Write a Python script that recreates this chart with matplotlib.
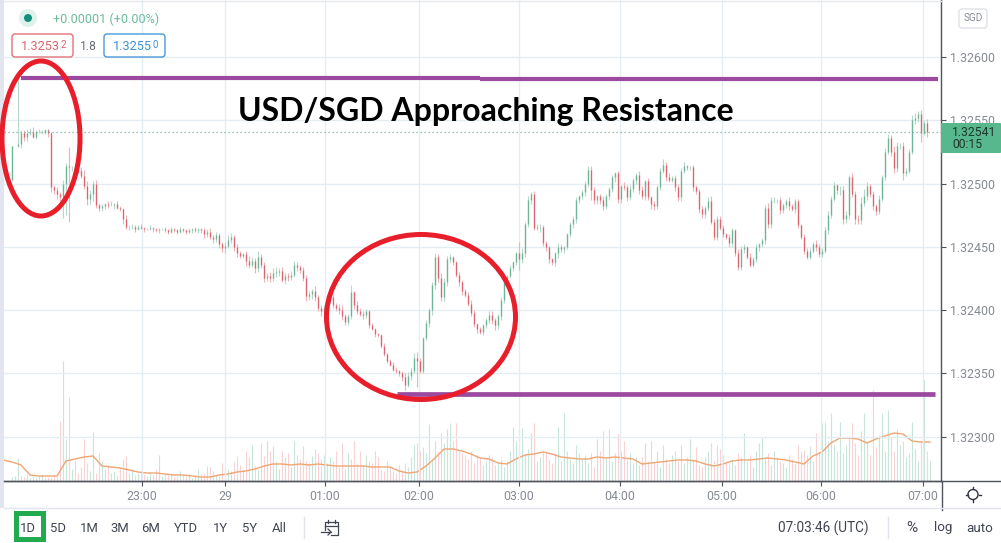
import numpy as np
import matplotlib
matplotlib.use('Agg')
import matplotlib.pyplot as plt
from matplotlib.patches import Ellipse, FancyBboxPatch, Rectangle, Circle

W, H = 1001, 543

# prices are stored as points above 1.32000
closes = [
    530, 530, 531, 540, 537, 540, 541, 537, 541, 541,
    541, 542, 540, 497, 495, 492, 489, 500, 514, 513,
    513, 511, 510, 506, 498, 488, 492, 500, 483, 481,
    482, 484, 483, 483, 484, 481, 480, 472, 466, 466,
    466, 464, 466, 465, 464, 464, 465, 464, 463, 464,
    464, 463, 462, 464, 463, 462, 464, 463, 462, 463,
    464, 463, 464, 463, 460, 462, 458, 456, 459, 452,
    449, 451, 455, 458, 450, 445, 443, 444, 439, 436,
    439, 433, 442, 436, 425, 427, 425, 429, 430, 431,
    424, 427, 426, 428, 436, 434, 432, 425, 411, 413,
    415, 410, 402, 399, 402, 407, 410, 404, 402, 400,
    395, 391, 395, 414, 404, 399, 397, 396, 399, 388,
    385, 381, 380, 372, 365, 360, 357, 353, 352, 350,
    347, 341, 348, 352, 362, 360, 352, 378, 390, 400,
    420, 442, 425, 410, 422, 440, 442, 438, 428, 422,
    415, 412, 405, 398, 389, 385, 383, 388, 392, 396,
    392, 388, 395, 408, 424, 427, 433, 438, 445, 440,
    445, 468, 487, 492, 465, 466, 466, 453, 450, 440,
    438, 445, 450, 448, 450, 460, 468, 472, 487, 490,
    493, 500, 511, 495, 487, 490, 487, 482, 490, 496,
    505, 508, 488, 498, 497, 489, 496, 503, 507, 495,
    490, 502, 489, 484, 482, 497, 510, 515, 505, 503,
    504, 497, 489, 510, 514, 513, 513, 497, 494, 480,
    476, 481, 486, 470, 458, 472, 465, 460, 458, 453,
    463, 445, 434, 448, 450, 442, 436, 440, 450, 452,
    455, 481, 468, 487, 487, 487, 479, 483, 486, 482,
    480, 486, 467, 458, 447, 442, 447, 452, 450, 444,
    447, 463, 475, 488, 499, 495, 495, 472, 475, 505,
    492, 472, 471, 485, 490, 498, 492, 482, 478, 488,
    505, 525, 536, 525, 512, 530, 530, 508, 510, 525,
    550, 552, 555, 540, 548, 541, 541,
]
first_open = 503

wick_up = [
    0, 0, 52, 2, 2, 3, 3, 4, 1, 2,
    1, 1, 1, 1, 2, 2, 1, 3, 2, 15,
    1, 2, 2, 3, 5, 4, 3, 2, 3, 2,
    2, 1, 2, 3, 1, 2, 1, 1, 3, 1,
    2, 1, 1, 2, 1, 1, 2, 1, 1, 1,
    1, 2, 1, 2, 1, 1, 2, 1, 1, 2,
    1, 2, 1, 1, 2, 2, 3, 1, 3, 2,
    2, 3, 4, 3, 1, 2, 2, 1, 3, 4,
    3, 2, 5, 2, 2, 2, 3, 4, 4, 2,
    3, 2, 2, 3, 3, 2, 2, 2, 3, 2,
    2, 4, 2, 2, 2, 1, 4, 3, 2, 3,
    4, 2, 2, 6, 1, 3, 3, 2, 2, 1,
    2, 1, 1, 1, 2, 1, 1, 2, 2, 1,
    2, 3, 3, 2, 4, 5, 2, 1, 2, 2,
    2, 3, 2, 4, 3, 3, 2, 1, 1, 2,
    2, 2, 2, 3, 2, 1, 2, 1, 2, 3,
    3, 2, 2, 2, 2, 1, 3, 1, 1, 9,
    4, 2, 3, 1, 2, 2, 2, 1, 2, 1,
    1, 1, 3, 2, 1, 1, 2, 2, 2, 1,
    2, 2, 3, 3, 2, 1, 2, 3, 2, 1,
    2, 1, 2, 1, 3, 2, 3, 1, 1, 3,
    3, 1, 2, 1, 2, 2, 2, 4, 2, 3,
    2, 3, 3, 2, 3, 1, 1, 2, 2, 2,
    2, 1, 3, 4, 2, 2, 2, 2, 1, 2,
    2, 1, 3, 3, 2, 1, 3, 2, 2, 1,
    2, 2, 4, 2, 2, 1, 2, 2, 2, 3,
    2, 2, 2, 1, 2, 2, 2, 2, 3, 2,
    2, 3, 3, 2, 2, 1, 3, 3, 3, 2,
    3, 2, 3, 4, 6, 3, 2, 2, 2, 3,
    2, 3, 3, 2, 5, 3, 2, 3, 2, 2,
    4, 4, 2, 3, 2, 3, 0,
]

wick_down = [
    0, 0, 1, 3, 3, 3, 2, 1, 2, 1,
    2, 2, 3, 4, 3, 4, 3, 16, 25, 43,
    3, 3, 2, 2, 2, 5, 4, 6, 2, 3,
    3, 2, 2, 1, 3, 1, 2, 4, 2, 3,
    2, 2, 1, 1, 2, 1, 1, 2, 1, 2,
    1, 1, 2, 1, 1, 2, 1, 1, 2, 1,
    2, 1, 2, 2, 3, 2, 2, 3, 2, 3,
    3, 4, 2, 2, 3, 3, 2, 2, 4, 3,
    2, 4, 3, 3, 3, 2, 3, 2, 3, 3,
    2, 3, 3, 2, 2, 3, 3, 2, 4, 3,
    4, 3, 3, 4, 2, 2, 2, 2, 3, 3,
    3, 3, 3, 2, 3, 2, 2, 3, 2, 2,
    1, 2, 1, 2, 1, 2, 1, 1, 2, 2,
    3, 4, 2, 3, 2, 21, 2, 2, 2, 3,
    4, 3, 3, 3, 3, 3, 2, 2, 2, 3,
    3, 2, 2, 3, 2, 3, 2, 3, 2, 2,
    3, 4, 3, 3, 2, 3, 2, 2, 2, 8,
    3, 3, 2, 3, 2, 2, 4, 2, 3, 3,
    2, 3, 4, 2, 3, 2, 2, 3, 3, 2,
    2, 3, 3, 8, 3, 3, 3, 3, 2, 3,
    3, 4, 3, 3, 2, 3, 2, 3, 3, 3,
    2, 3, 2, 4, 3, 2, 2, 2, 3, 2,
    2, 3, 3, 3, 2, 2, 2, 3, 2, 3,
    3, 3, 3, 2, 3, 3, 2, 2, 2, 3,
    3, 2, 2, 2, 3, 2, 2, 2, 2, 3,
    2, 3, 3, 3, 2, 2, 3, 2, 2, 3,
    2, 3, 2, 2, 3, 2, 2, 2, 3, 2,
    2, 2, 3, 2, 2, 3, 4, 4, 3, 3,
    3, 4, 3, 3, 3, 3, 3, 3, 3, 2,
    2, 2, 2, 3, 4, 3, 3, 5, 2, 2,
    2, 3, 3, 7, 2, 4, 0,
]

volumes = [
    4, 5, 23, 5, 4, 6, 3, 4, 3, 5,
    7, 3, 4, 4, 6, 4, 60, 120, 42, 84,
    12, 20, 8, 14, 42, 18, 10, 49, 8, 28,
    20, 12, 16, 8, 10, 6, 14, 22, 25, 8,
    12, 6, 8, 10, 7, 5, 9, 6, 12, 26,
    5, 7, 6, 8, 4, 5, 10, 6, 4, 7,
    3, 6, 12, 7, 8, 15, 14, 10, 6, 5,
    18, 14, 12, 10, 20, 25, 16, 12, 30, 24,
    36, 15, 12, 38, 25, 40, 30, 35, 20, 12,
    30, 24, 28, 14, 40, 26, 22, 35, 20, 18,
    25, 32, 28, 22, 26, 18, 24, 20, 30, 14,
    38, 12, 28, 22, 40, 18, 30, 16, 26, 20,
    18, 30, 24, 12, 10, 20, 14, 10, 8, 16,
    10, 18, 14, 24, 36, 38, 30, 34, 28, 57,
    22, 40, 30, 48, 38, 52, 58, 40, 58, 30,
    28, 26, 22, 30, 18, 26, 24, 16, 20, 26,
    24, 16, 18, 22, 14, 20, 30, 54, 40, 18,
    53, 26, 32, 48, 58, 20, 24, 30, 28, 22,
    18, 28, 54, 20, 68, 30, 22, 18, 36, 28,
    22, 26, 18, 28, 14, 42, 30, 50, 24, 52,
    20, 28, 47, 30, 40, 22, 28, 18, 24, 16,
    24, 38, 20, 40, 18, 30, 14, 36, 22, 18,
    26, 30, 20, 36, 18, 24, 42, 22, 34, 16,
    14, 24, 30, 38, 20, 36, 32, 26, 20, 18,
    22, 16, 28, 24, 48, 20, 26, 14, 30, 38,
    44, 22, 28, 16, 30, 24, 20, 18, 14, 26,
    22, 18, 36, 30, 31, 26, 35, 20, 48, 30,
    58, 59, 40, 68, 36, 30, 59, 28, 36, 44,
    58, 38, 26, 50, 68, 40, 26, 91, 34, 46,
    68, 30, 71, 44, 30, 52, 36, 40, 24, 28,
    59, 32, 20, 40, 101, 30, 20,
]

# volume moving average, one reading every third bar starting one step left of bar 0
volume_ma = [
    21, 19, 16, 6, 5, 5, 5, 20, 22, 24,
    25, 15, 14, 13, 11, 9, 8, 8, 7, 6,
    6, 5, 4, 4, 6, 7, 9, 10, 12, 15,
    17, 17, 16, 17, 16, 17, 16, 15, 15, 15,
    15, 14, 14, 14, 10, 8, 9, 15, 23, 32,
    32, 30, 27, 23, 22, 18, 17, 22, 26, 27,
    29, 27, 24, 23, 22, 22, 24, 23, 24, 23,
    22, 17, 18, 19, 20, 21, 21, 20, 17, 15,
    17, 20, 21, 21, 22, 23, 22, 21, 19, 17,
    25, 29, 38, 43, 43, 42, 38, 42, 45, 48,
    47, 40, 39, 39,
]

price_ticks = [1.32300, 1.32350, 1.32400, 1.32450, 1.32500, 1.32550, 1.32600]
time_ticks = [43.3, 71.0, 104.3, 135.7, 169.0, 202.7, 236.7, 269.7, 303.7]
time_labels = ['23:00', '29', '01:00', '02:00', '03:00', '04:00', '05:00', '06:00', '07:00']
last_price = 1.32541
resistance = 1.32583
support = 1.32334
range_labels = ['1D', '5D', '1M', '3M', '6M', 'YTD', '1Y', '5Y', 'All']
range_x = [28, 58, 89, 120, 151, 186, 220, 250, 279]

GREEN = '#6cb596'
RED = '#da6570'
GREY = '#868b94'
DARK = '#3f4450'
LINE = '#50535e'
GRID = '#e4edf1'
FONT = 'Roboto'

c = 1.32 + np.array(closes) * 1e-5
o = np.r_[1.32 + first_open * 1e-5, c[:-1]]
hi = np.maximum(o, c) + np.array(wick_up) * 1e-5
lo = np.minimum(o, c) - np.array(wick_down) * 1e-5
bars = np.arange(len(c))
up = c >= o

fig = plt.figure(figsize=(W / 100, H / 100), dpi=100, facecolor='white')
rect = [4 / W, (H - 481) / H, 937 / W, 481 / H]

# volume sits behind the price panel
vol_ax = fig.add_axes(rect, zorder=1)
vol_ax.set_xlim(-2.67, 309.67)
vol_ax.set_ylim(0, 481)
vol_ax.axis('off')
vol_ax.vlines(bars, 0, volumes, colors=np.where(up, '#c8e5d9', '#f8d2d4'), lw=0.8)
vol_ax.plot(np.arange(len(volume_ma)) * 3 - 3, volume_ma, color='#f0a673', lw=1)

ax = fig.add_axes(rect, zorder=2)
ax.patch.set_alpha(0)
ax.set_xlim(-2.67, 309.67)
ax.set_ylim(1.32265, 1.32645)
ax.grid(True, color=GRID, lw=1)
ax.set_axisbelow(True)
ax.set_xticks(time_ticks)
ax.set_xticklabels(time_labels)
ax.set_yticks(price_ticks)
ax.set_yticklabels(['%.5f' % p for p in price_ticks])
ax.yaxis.tick_right()
ax.tick_params(colors=GREY, labelsize=8.9, length=3.5, width=0.8, pad=3)
ax.tick_params(axis='both', color=LINE)
for t in ax.get_xticklabels() + ax.get_yticklabels():
    t.set_fontfamily(FONT)
for s in ['left', 'top']:
    ax.spines[s].set_visible(False)
for s in ['right', 'bottom']:
    ax.spines[s].set_color(LINE)
    ax.spines[s].set_linewidth(1)

ax.vlines(bars[up], lo[up], hi[up], color='#b4d9c8', lw=0.8)
ax.vlines(bars[~up], lo[~up], hi[~up], color='#eeb3b7', lw=0.8)
ax.vlines(bars[up], o[up], c[up], color=GREEN, lw=0.95)
ax.vlines(bars[~up], c[~up], o[~up], color=RED, lw=0.95)

ax.axhline(last_price, color=GREEN, lw=0.9, ls=(0, (1, 2.2)))
ax.hlines(resistance, 3, 156, color='#9c4a9f', lw=3)
ax.hlines(resistance - 0.000004, 156, 308.7, color='#9c4a9f', lw=3)
ax.hlines(support, 128.3, 307.7, color='#9c4a9f', lw=3.4)

# everything that is page furniture goes on a pixel overlay
ui = fig.add_axes([0, 0, 1, 1], zorder=3)
ui.set_xlim(0, W)
ui.set_ylim(H, 0)
ui.axis('off')
ui.patch.set_alpha(0)


def label(x, y, s, size=8.9, color=DARK, ha='center', **kw):
    ui.text(x, y, s, fontsize=size, color=color, ha=ha, va='center', family=FONT, **kw)


def box(x, y, w, h, edge, face='white', lw=1, pad=3):
    ui.add_patch(FancyBboxPatch((x + pad, y + pad), w - 2 * pad, h - 2 * pad,
                                boxstyle='round,pad=%d' % pad, fc=face, ec=edge, lw=lw))


ui.add_patch(Rectangle((0, 0), 4, 508, fc='#e2e4f0', ec='none'))
ui.plot([4, W], [481, 481], color=LINE, lw=1)
ui.plot([941.5, 941.5], [481, 510], color=LINE, lw=1)
ui.plot([4, W], [508, 508], color='#e3e5ec', lw=1)
ui.plot([4, 941], [1, 1], color='#e6e9ee', lw=1)

ui.add_patch(Ellipse((41, 138.5), 78, 155, fc='none', ec='#e81f2a', lw=3.6))
ui.add_patch(Ellipse((421, 317), 189, 165, fc='none', ec='#e81f2a', lw=3.6))

ui.text(486, 112, 'USD/SGD Approaching Resistance', fontsize=23, fontweight='bold',
        family='Lato', color='black', ha='center', va='center')

# legend row
ui.add_patch(Circle((28, 18), 9, fc='#dff1ec', ec='none'))
ui.add_patch(Circle((28, 18), 4, fc='#12907c', ec='none'))
label(53, 19, '+0.00001 (+0.00%)', size=9.1, color='#6cbc9b', ha='left')
box(12, 34, 61, 23, '#e27378')
label(21, 46, '1.3253', size=9.2, color='#d9666c', ha='left')
label(60.5, 45, '2', size=7, color='#d9666c', ha='left')
label(88.5, 46, '1.8', size=8.7, color='#6a6e78')
box(104, 34, 61, 23, '#4a98d8')
label(113, 46, '1.3255', size=9.2, color='#3d8fd2', ha='left')
label(152.5, 45, '0', size=7, color='#3d8fd2', ha='left')

box(959, 9, 28, 19, '#dfe2e8')
label(973, 18, 'SGD', size=7.2, color=GREY)

# last price tag
ui.add_patch(FancyBboxPatch((942, 124), 58, 28, boxstyle='round,pad=1', fc='#56b88c', ec='none'))
label(952, 133, '1.32541', size=8.7, color='#20362c', ha='left')
label(952, 145, '00:15', size=8.7, color='#20362c', ha='left')

# range bar
for x, s in zip(range_x, range_labels):
    label(x, 528, s, size=9.4, color=DARK)
ui.add_patch(Rectangle((16, 513), 27, 26, fc='none', ec='#22aa4f', lw=3.6))
ui.plot([304, 304], [517, 538], color='#e3e5ec', lw=1)
ui.plot([888, 888], [517, 538], color='#e3e5ec', lw=1)

# calendar icon
ui.plot([325, 325, 338, 338, 331], [530, 522, 522, 535, 535], color=DARK, lw=0.9)
ui.plot([325, 338], [526, 526], color=DARK, lw=0.9)
ui.plot([328, 328], [520, 523], color=DARK, lw=0.9)
ui.plot([335, 335], [520, 523], color=DARK, lw=0.9)
ui.plot([321, 331], [532, 532], color=DARK, lw=0.9)
ui.plot([328, 331, 328], [529, 532, 535], color=DARK, lw=0.9)

label(778, 528, '07:03:46 (UTC)', size=9.8, ha='left')
label(912, 528, '%', size=11)
label(943, 528, 'log', size=9.6)
label(980, 528, 'auto', size=9.6)

# sun icon next to the time scale
ui.add_patch(Circle((973, 494.5), 5, fc='none', ec='#2f333d', lw=1))
ui.plot([973, 973], [487, 489], color='#2f333d', lw=1)
ui.plot([973, 973], [500, 502], color='#2f333d', lw=1)
ui.plot([965.5, 967.5], [494.5, 494.5], color='#2f333d', lw=1)
ui.plot([978.5, 980.5], [494.5, 494.5], color='#2f333d', lw=1)

fig.savefig('out.png', dpi=100)
